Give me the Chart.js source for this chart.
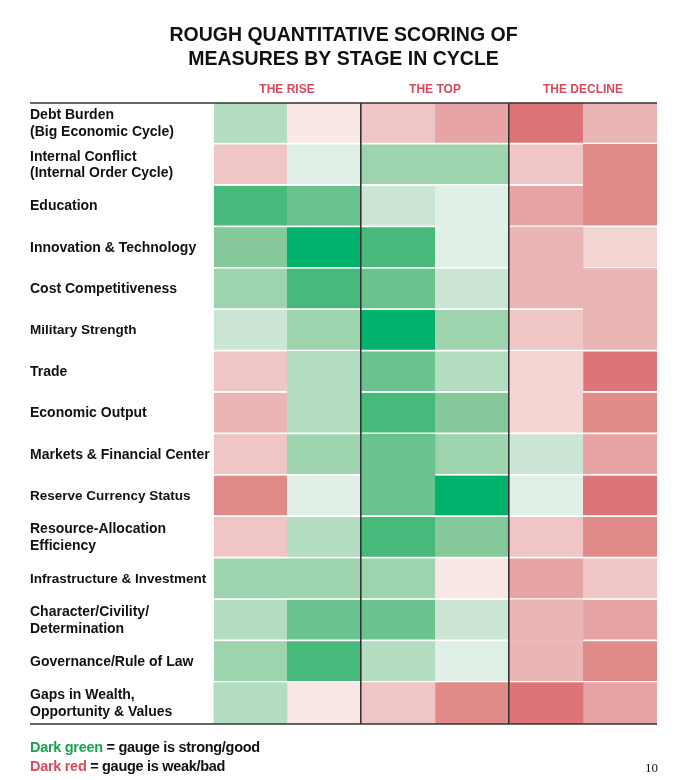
<!DOCTYPE html>
<html>
<head>
<meta charset="utf-8">
<script src="https://cdn.jsdelivr.net/npm/chart.js@4.4.1/dist/chart.umd.min.js"></script>
<style>
  body { margin: 0; background: #fff; }
  #wrap { position: relative; width: 700px; height: 780px; }
  .note { position: absolute; left: 30px; font: bold 14.5px "Liberation Sans", Arial, sans-serif; color: #111; letter-spacing: -0.3px; }
  .page { position: absolute; right: 42px; top: 760px; font: 13px "Liberation Serif", serif; color: #111; }
</style>
</head>
<body>
<div id="wrap">
  <canvas id="chart" width="700" height="780"></canvas>
  <div class="note" style="top:739px"><span style="color:#1aa24c">Dark green</span> = gauge is strong/good</div>
  <div class="note" style="top:758px"><span style="color:#d9495e">Dark red</span> = gauge is weak/bad</div>
  <div class="page">10</div>
</div>
<script>
const measures = [
  ["Debt Burden", "(Big Economic Cycle)"],
  ["Internal Conflict", "(Internal Order Cycle)"],
  "Education",
  "Innovation & Technology",
  "Cost Competitiveness",
  "Military Strength",
  "Trade",
  "Economic Output",
  "Markets & Financial Center",
  "Reserve Currency Status",
  ["Resource-Allocation", "Efficiency"],
  "Infrastructure & Investment",
  ["Character/Civility/", "Determination"],
  "Governance/Rule of Law",
  ["Gaps in Wealth,", "Opportunity & Values"]
];

const stages = ["THE RISE", "THE TOP", "THE DECLINE"];

// scores: +8 strongest/good ... -7 weakest/bad
const rise1    = [ 3, -3,  7,  5,  4,  2, -3, -4, -3, -6, -3,  4,  3,  4,  3];
const rise2    = [-1,  1,  6,  8,  7,  4,  3,  3,  4,  1,  3,  4,  6,  7, -1];
const top1     = [-3,  4,  2,  7,  6,  8,  6,  7,  6,  6,  7,  4,  6,  3, -3];
const top2     = [-5,  4,  1,  1,  2,  4,  3,  5,  4,  8,  5, -1,  2,  1, -6];
const decline1 = [-7, -3, -5, -4, -4, -3, -2, -2,  2,  1, -3, -5, -4, -4, -7];
const decline2 = [-4, -6, -6, -2, -4, -4, -7, -6, -5, -7, -6, -3, -5, -6, -5];

const palette = {
   8: "#00b26b",  7: "#47b97b",  6: "#6ac28e",  5: "#85c99b",
   4: "#9dd4ae",  3: "#b3ddc0",  2: "#cce6d5",  1: "#e0f0e6",
  "-1": "#f9e8e6", "-2": "#f3d5d4", "-3": "#efc6c5", "-4": "#e9b6b5",
  "-5": "#e7a4a4", "-6": "#e08a8a", "-7": "#dc7478"
};

// labels set in a tighter face in the original
const narrowLabels = ["Military Strength", "Reserve Currency Status", "Infrastructure & Investment"];

const columns = [rise1, rise2, top1, top2, decline1, decline2];

const datasets = columns.map((scores, c) => ({
  data: scores.map(() => [c, c + 1]),
  backgroundColor: scores.map((s) => palette[s]),
  borderColor: "#ffffff",
  borderSkipped: false,
  borderWidth: (ctx) => {
    const next = scores[ctx.dataIndex + 1];
    return { top: 0, left: 0, right: 0, bottom: next !== undefined && next !== scores[ctx.dataIndex] ? 2 : 0 };
  },
  categoryPercentage: 1,
  barPercentage: 1,
  grouped: false
}));

const frameLines = {
  id: "frameLines",
  afterDraw(chart) {
    const { ctx, chartArea, scales } = chart;
    ctx.save();
    ctx.strokeStyle = "#333";
    ctx.lineWidth = 1.6;
    [chartArea.top, chartArea.bottom].forEach((y) => {
      ctx.beginPath();
      ctx.moveTo(scales.y.left, y);
      ctx.lineTo(chartArea.right, y);
      ctx.stroke();
    });
    ctx.restore();
  }
};

new Chart(document.getElementById("chart"), {
  type: "bar",
  data: { labels: measures, datasets },
  options: {
    indexAxis: "y",
    responsive: false,
    animation: false,
    layout: { padding: { left: 30, right: 43, bottom: 56, top: 24 } },
    plugins: {
      legend: { display: false },
      tooltip: { enabled: false },
      title: {
        display: true,
        text: ["ROUGH QUANTITATIVE SCORING OF", "MEASURES BY STAGE IN CYCLE"],
        color: "#111",
        font: { family: "Liberation Sans", size: 19.5, weight: "bold", lineHeight: 1.22 },
        padding: { top: 0, bottom: 5 }
      }
    },
    scales: {
      x: {
        type: "linear",
        position: "top",
        min: 0,
        max: 6,
        afterBuildTicks: (scale) => {
          scale.ticks = [0, 1, 2, 3, 4, 5, 6].map((v) => ({ value: v }));
        },
        ticks: {
          autoSkip: false,
          maxRotation: 0,
          padding: 6,
          color: "#d9495e",
          font: { family: "Liberation Sans", size: 12, weight: "bold" },
          callback: (v) => (v % 2 === 1 ? stages[(v - 1) / 2] : "")
        },
        grid: {
          z: 1,
          drawTicks: false,
          lineWidth: 1.6,
          color: (ctx) => (ctx.tick && (ctx.tick.value === 2 || ctx.tick.value === 4) ? "#333" : "rgba(0,0,0,0)")
        },
        border: { display: false }
      },
      y: {
        afterFit: (scale) => { scale.width = 183; },
        ticks: {
          crossAlign: "far",
          color: "#111",
          padding: 0,
          font: (ctx) => ({
            family: "Liberation Sans",
            size: narrowLabels.includes(measures[ctx.index]) ? 13.5 : 14,
            weight: "bold",
            lineHeight: 1.2
          })
        },
        grid: { display: false },
        border: { display: false }
      }
    }
  },
  plugins: [frameLines]
});
</script>
</body>
</html>
